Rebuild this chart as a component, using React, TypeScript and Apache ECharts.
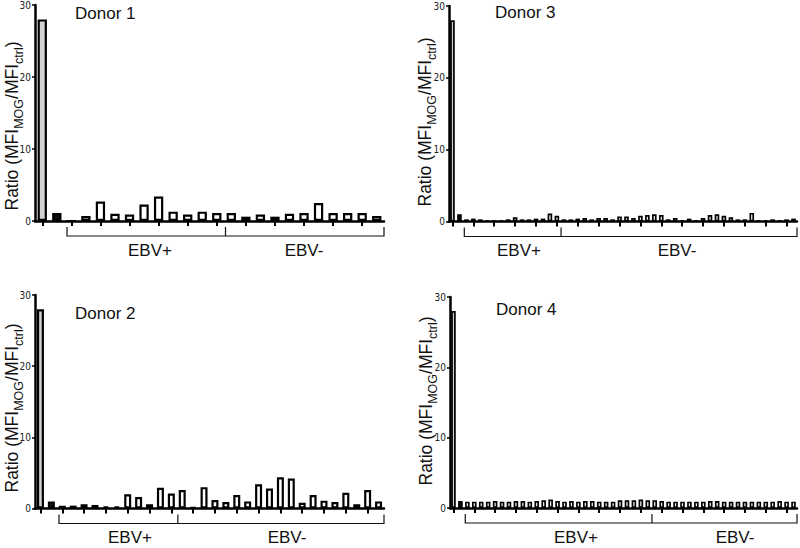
import React, { useEffect, useRef } from 'react';
import * as echarts from 'echarts';

// ---------- data ----------
const donorNames = ['Donor 1', 'Donor 2', 'Donor 3', 'Donor 4'];
const groupLabels = ['EBV+', 'EBV-'];
const yTickValues = [0, 10, 20, 30];

// index 0 = grey control bar, index 1 = black control bar, the rest = cell lines
const donor1Values = [28, 1.1, 0, 0.7, 2.7, 1.0, 0.9, 2.3, 3.4, 1.3, 0.9, 1.3, 1.1, 1.1, 0.6, 0.9, 0.6, 1.0, 1.1, 2.5, 1.1, 1.1, 1.1, 0.7];
const donor1Groups = [11, 11];

const donor2Values = [28, 1.0, 0.4, 0.4, 0.6, 0.5, 0.3, 0.3, 2.0, 1.6, 0.6, 2.9, 2.1, 2.6, 0.2, 3.0, 1.2, 0.9, 1.9, 1.0, 3.4, 2.8, 4.4, 4.2, 0.8, 1.9, 1.1, 0.9, 2.2, 0.6, 2.6, 1.0];
const donor2Groups = [11, 19];

const donor3Values = [28, 1.0, 0.3, 0.4, 0.3, 0.2, 0.1, 0.1, 0.3, 0.6, 0.3, 0.3, 0.4, 0.4, 1.1, 0.8, 0.3, 0.3, 0.4, 0.5, 0.3, 0.5, 0.5, 0.3, 0.7, 0.7, 0.5, 0.8, 0.9, 1.0, 0.9, 0.3, 0.5, 0.2, 0.4, 0.2, 0.5, 0.9, 1.0, 0.8, 0.6, 0.3, 0.3, 1.2, 0.2, 0.2, 0.3, 0.2, 0.3, 0.4];
const donor3Groups = [14, 34];

const donor4Values = [28, 1.0, 0.9, 0.9, 0.9, 0.9, 1.0, 0.9, 0.9, 1.0, 1.0, 0.9, 1.0, 1.1, 1.2, 1.0, 0.9, 1.0, 0.9, 1.0, 1.0, 0.9, 0.9, 0.9, 1.1, 1.1, 1.1, 1.2, 1.1, 1.1, 1.0, 0.9, 0.9, 0.9, 0.9, 0.9, 0.9, 1.0, 1.0, 0.9, 0.9, 0.9, 0.9, 0.9, 0.9, 0.9, 0.9, 1.0, 0.9, 0.9];
const donor4Groups = [27, 21];

// ---------- layout ----------
const FONT = "'Liberation Sans', Arial, Helvetica, sans-serif";
const NARROW = "'Liberation Sans Narrow', 'DejaVu Sans Condensed', 'Liberation Sans', sans-serif";

const panels = [
  { name: donorNames[0], values: donor1Values, groups: donor1Groups, grid: { left: 35, top: 5, width: 349, height: 216 }, title: [75, 13], axisName: [12, 126], labelX: [150, 304], border: 2.2, barWidth: '64%' },
  { name: donorNames[1], values: donor2Values, groups: donor2Groups, grid: { left: 35, top: 295, width: 349, height: 213.5 }, title: [75, 313], axisName: [12, 408], labelX: [130, 287], border: 2.2, barWidth: '64%' },
  { name: donorNames[2], values: donor3Values, groups: donor3Groups, grid: { left: 449, top: 6, width: 348, height: 215.5 }, title: [495, 12], axisName: [425, 122], labelX: [519, 677], border: 1.7, barWidth: '66%' },
  { name: donorNames[3], values: donor4Values, groups: donor4Groups, grid: { left: 450, top: 297, width: 347, height: 211 }, title: [496, 309], axisName: [426, 401], labelX: [576, 735], border: 1.7, barWidth: '66%' },
];

function barColor(i: number) {
  if (i === 0) return '#d2d2d2';
  if (i === 1) return '#111111';
  return '#ffffff';
}

export default function App() {
  const ref = useRef<HTMLDivElement>(null);

  useEffect(() => {
    if (!ref.current) return;
    const chart = echarts.init(ref.current, undefined, { renderer: 'svg' });

    const option: any = {
      animation: false,
      backgroundColor: '#ffffff',
      grid: panels.map((p) => ({ ...p.grid, containLabel: false })),
      xAxis: panels.map((p, i) => ({
        type: 'category',
        gridIndex: i,
        data: p.values.map((_, k) => String(k + 1)),
        boundaryGap: true,
        axisLine: { show: true, onZero: false, lineStyle: { color: '#000', width: 2.5 } },
        axisTick: { show: true, alignWithLabel: true, length: 5, lineStyle: { color: '#000', width: 2 } },
        axisLabel: { show: false },
        splitLine: { show: false },
      })),
      yAxis: panels.map((p, i) => ({
        type: 'value',
        gridIndex: i,
        min: yTickValues[0],
        max: yTickValues[yTickValues.length - 1],
        interval: yTickValues[1] - yTickValues[0],
        axisLine: { show: true, lineStyle: { color: '#000', width: 2.5 } },
        axisTick: { show: true, length: 3, lineStyle: { color: '#000', width: 1.5 } },
        axisLabel: { show: true, fontSize: 10, fontFamily: NARROW, color: '#222', margin: 4 },
        splitLine: { show: false },
      })),
      series: panels.map((p, i) => ({
        type: 'bar',
        xAxisIndex: i,
        yAxisIndex: i,
        barWidth: p.barWidth,
        data: p.values.map((v, k) => ({
          value: v,
          itemStyle: { color: barColor(k), borderColor: '#000', borderWidth: p.border },
        })),
      })),
    };
    chart.setOption(option);

    const graphics: any[] = [];
    panels.forEach((p, i) => {
      const x0 = chart.convertToPixel({ xAxisIndex: i } as any, 0) as unknown as number;
      const x1 = chart.convertToPixel({ xAxisIndex: i } as any, 1) as unknown as number;
      const step = x1 - x0;
      const at = (f: number) => x0 + f * step;
      const y0 = chart.convertToPixel({ yAxisIndex: i } as any, 0) as unknown as number;
      const yLine = y0 + 15;
      const yTop = y0 + 6;

      const first = 2;
      const midIdx = first + p.groups[0] - 1;
      const last = first + p.groups[0] + p.groups[1] - 1;
      const xs = at(first - 0.3);
      const xm = at(midIdx + 0.6);
      const xe = at(last + 0.5);

      graphics.push({
        type: 'polyline',
        shape: { points: [[xs, yTop], [xs, yLine], [xe, yLine], [xe, yTop]] },
        style: { stroke: '#111', lineWidth: 1.2, fill: null },
      });
      graphics.push({
        type: 'line',
        shape: { x1: xm, y1: yTop, x2: xm, y2: yLine },
        style: { stroke: '#111', lineWidth: 1.2 },
      });

      groupLabels.forEach((g, gi) => {
        graphics.push({
          type: 'text',
          x: p.labelX[gi],
          y: y0 + 29,
          style: { text: g, fontSize: 17, fontFamily: FONT, fill: '#111', align: 'center', verticalAlign: 'middle' },
        });
      });

      graphics.push({
        type: 'text',
        x: p.title[0],
        y: p.title[1],
        style: { text: p.name, fontSize: 17, fontFamily: FONT, fill: '#111', align: 'left', verticalAlign: 'middle' },
      });

      graphics.push({
        type: 'text',
        x: p.axisName[0],
        y: p.axisName[1],
        rotation: Math.PI / 2,
        style: {
          text: '{a|Ratio (MFI}{s|MOG}{a|/MFI}{s|ctrl}{a|)}',
          align: 'center',
          verticalAlign: 'middle',
          fill: '#111',
          fontFamily: FONT,
          rich: {
            a: { fontSize: 17.5, fontFamily: FONT, fill: '#111', lineHeight: 26, verticalAlign: 'middle' },
            s: { fontSize: 12.5, fontFamily: FONT, fill: '#111', lineHeight: 13, verticalAlign: 'bottom' },
          },
        },
      });
    });

    chart.setOption({ graphic: graphics });

    return () => {
      chart.dispose();
    };
  }, []);

  return (
    <div
      ref={ref}
      style={{ position: 'absolute', left: 0, top: 0, width: 800, height: 548, background: '#fff' }}
    />
  );
}
